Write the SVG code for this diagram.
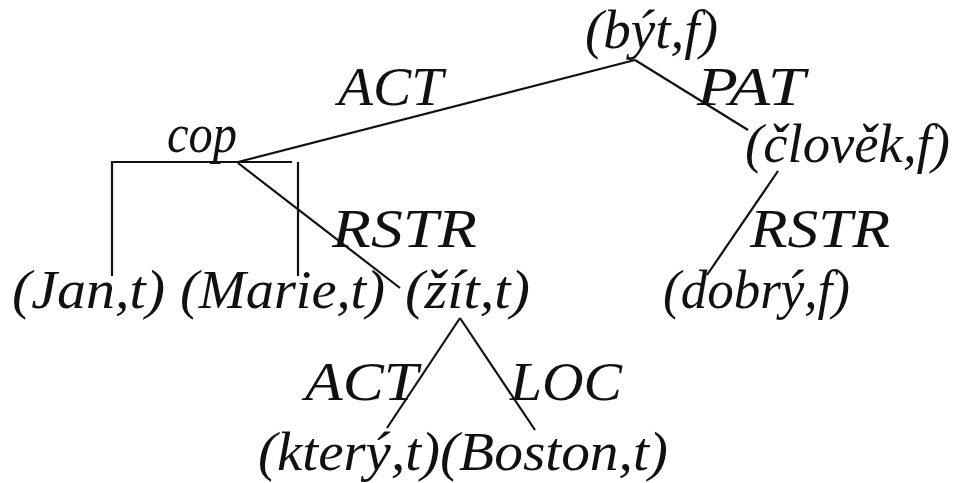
<svg xmlns="http://www.w3.org/2000/svg" width="955" height="483" viewBox="0 0 955 483">
  <style>
    text { font-family: "Liberation Serif", "DejaVu Serif", serif; font-style: italic; font-size: 54px; fill: #111; }
    .edge { stroke: #111; stroke-width: 2.2; fill: none; stroke-linecap: butt; }
  </style>
  <rect width="955" height="483" fill="#fff"/>

  <!-- tree edges -->
  <g id="connectors">
    <line class="edge" x1="635" y1="60" x2="238" y2="162"/>
    <line class="edge" x1="635" y1="60" x2="748" y2="130"/>
    <!-- coordination bracket under cop -->
    <polyline class="edge" points="112,276 112,162 292,162"/>
    <line class="edge" x1="216" y1="153" x2="216" y2="162"/>
    <line class="edge" x1="298" y1="162" x2="298" y2="276"/>
    <line class="edge" x1="238" y1="163" x2="400" y2="288"/>
    <line class="edge" x1="778" y1="171" x2="707" y2="275"/>
    <line class="edge" x1="460" y1="318" x2="387" y2="428"/>
    <line class="edge" x1="460" y1="318" x2="535" y2="430"/>
    <g id="edge-labels">
      <text x="338" y="105" textLength="105" lengthAdjust="spacingAndGlyphs">ACT</text>
      <text x="697" y="105" textLength="108" lengthAdjust="spacingAndGlyphs">PAT</text>
      <text x="332" y="247" textLength="145" lengthAdjust="spacingAndGlyphs">RSTR</text>
      <text x="750" y="247" textLength="140" lengthAdjust="spacingAndGlyphs">RSTR</text>
      <text x="305" y="400" textLength="113" lengthAdjust="spacingAndGlyphs">ACT</text>
      <text x="510" y="400" textLength="112" lengthAdjust="spacingAndGlyphs">LOC</text>
    </g>
  </g>

  <g id="byt"><text x="585" y="48" textLength="133" lengthAdjust="spacingAndGlyphs">(být,f)</text></g>
  <g id="cop"><text x="167" y="152" textLength="70" lengthAdjust="spacingAndGlyphs">cop</text></g>
  <g id="clovek"><text x="745" y="162" textLength="205" lengthAdjust="spacingAndGlyphs">(člověk,f)</text></g>
  <g id="jan"><text x="12" y="308" textLength="153" lengthAdjust="spacingAndGlyphs">(Jan,t)</text></g>
  <g id="marie"><text x="180" y="308" textLength="205" lengthAdjust="spacingAndGlyphs">(Marie,t)</text></g>
  <g id="zit"><text x="405" y="308" textLength="125" lengthAdjust="spacingAndGlyphs">(žít,t)</text></g>
  <g id="dobry"><text x="663" y="308" textLength="187" lengthAdjust="spacingAndGlyphs">(dobrý,f)</text></g>
  <g id="ktery"><text x="258" y="470" textLength="182" lengthAdjust="spacingAndGlyphs">(který,t)</text></g>
  <g id="boston"><text x="440" y="470" textLength="228" lengthAdjust="spacingAndGlyphs">(Boston,t)</text></g>
</svg>
